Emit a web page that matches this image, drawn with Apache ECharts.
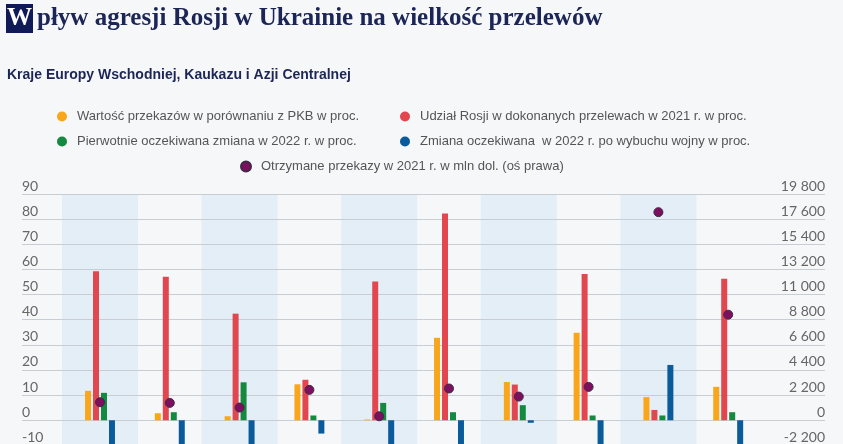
<!DOCTYPE html>
<html>
<head>
<meta charset="utf-8">
<title>Wpływ agresji Rosji w Ukrainie na wielkość przelewów</title>
<script src="https://cdn.jsdelivr.net/npm/echarts@6/dist/echarts.min.js"></script>
<style>
  html, body { margin: 0; padding: 0; overflow: hidden; background: #f6f7f9; }
  #chart { width: 843px; height: 460px; }
</style>
</head>
<body>
<div id="chart"></div>
<script>
// kraje (podpisy osi X są poza kadrem)
const countries = ['Armenia', 'Azerbejdżan', 'Białoruś', 'Gruzja', 'Kazachstan', 'Kirgistan', 'Mołdawia', 'Tadżykistan', 'Ukraina', 'Uzbekistan'];

// wartości w proc. (oś lewa)
const gdpShare = [11.7, 2.8, 1.6, 14.3, 0.3, 32.8, 15.2, 34.8, 9.2, 13.3];
const russiaShare = [59.3, 57.1, 42.4, 16.1, 55.2, 82.2, 14.2, 58.2, 4.1, 56.3];
const expectedBefore = [10.9, 3.2, 15.1, 1.9, 6.9, 3.2, 6.0, 1.9, 1.9, 3.2];
// słupki ujemne wychodzą poza kadr, więc ich długość jest szacunkowa
const expectedAfter = [-15, -12, -15, -5.3, -12, -33, -1.0, -22, 22.0, -21];

// mln dol. (oś prawa)
const remittances = [1580, 1520, 1110, 2660, 350, 2780, 2070, 2920, 18210, 9240];

// co drugi kraj na jasnoniebieskim tle
const bandMask = [1, 0, 1, 0, 1, 0, 1, 0, 1, 0];

const seriesNames = [
  'Wartość przekazów w porównaniu z PKB w proc.',
  'Udział Rosji w dokonanych przelewach w 2021 r. w proc.',
  'Pierwotnie oczekiwana zmiana w 2022 r. w proc.',
  'Zmiana oczekiwana  w 2022 r. po wybuchu wojny w proc.',
  'Otrzymane przekazy w 2021 r. w mln dol. (oś prawa)'
];
const colors = ['#f9a61a', '#e2474f', '#138a3f', '#0a5b9b', '#7c0f5e'];

const fmtSpace = v => String(v).replace(/\B(?=(\d{3})+(?!\d))/g, ' ');

const chart = echarts.init(document.getElementById('chart'));

const legendPos = [
  { left: 57, top: 110 },
  { left: 400, top: 110 },
  { left: 57, top: 135 },
  { left: 400, top: 135 },
  { left: 240, top: 160 }
];

const legends = seriesNames.map((name, i) => ({
  data: [name],
  left: legendPos[i].left,
  top: legendPos[i].top,
  padding: 0,
  icon: 'circle',
  itemWidth: 10,
  itemHeight: 10,
  selectedMode: false,
  textStyle: {
    color: '#555',
    fontSize: 13,
    fontFamily: 'Liberation Sans',
    padding: [0, 0, 0, 5]
  }
}));

const axisLabelBase = {
  inside: true,
  margin: 0,
  verticalAlign: 'bottom',
  padding: [0, 0, 1, 0],
  color: '#666',
  fontSize: 14,
  fontFamily: 'Lato'
};

const option = {
  backgroundColor: '#f6f7f9',
  animation: false,
  title: [
    {
      left: 6,
      top: 4,
      padding: 0,
      text: '{box|W}{t|pływ agresji Rosji w Ukrainie na wielkość przelewów}',
      textStyle: {
        rich: {
          box: {
            backgroundColor: '#101a56',
            color: '#fff',
            fontFamily: 'Liberation Serif',
            fontWeight: 'bold',
            fontSize: 25,
            width: 27,
            height: 29,
            lineHeight: 29,
            align: 'center'
          },
          t: {
            color: '#1b2556',
            fontFamily: 'Liberation Serif',
            fontSize: 25,
            lineHeight: 29,
            padding: [0, 0, 0, 4]
          }
        }
      }
    },
    {
      left: 7,
      top: 68,
      padding: 0,
      text: 'Kraje Europy Wschodniej, Kaukazu i Azji Centralnej',
      textStyle: {
        color: '#1b2556',
        fontFamily: 'Liberation Sans',
        fontWeight: 'bold',
        fontSize: 14
      }
    }
  ],
  legend: legends,
  grid: [
    // siatka i opisy osi
    { left: 22, right: 18, top: 194, bottom: 14.6 },
    // słupki i punkty
    { left: 65.1, right: 79.9, top: 194, bottom: 14.6 }
  ],
  xAxis: [
    { gridIndex: 0, type: 'value', min: 0, max: 1, show: false },
    { gridIndex: 1, type: 'category', data: countries, show: false },
    { gridIndex: 1, type: 'category', data: countries, show: false }
  ],
  yAxis: [
    {
      gridIndex: 0, type: 'value', position: 'left',
      min: -10, max: 90, interval: 10,
      axisLine: { show: false }, axisTick: { show: false },
      axisLabel: axisLabelBase,
      splitLine: { lineStyle: { color: '#c8ccd3', width: 1 } }
    },
    {
      gridIndex: 0, type: 'value', position: 'right',
      min: -2200, max: 19800, interval: 2200,
      axisLine: { show: false }, axisTick: { show: false },
      axisLabel: Object.assign({}, axisLabelBase, { formatter: fmtSpace }),
      splitLine: { show: false }
    },
    { gridIndex: 1, type: 'value', min: -10, max: 90, show: false },
    { gridIndex: 1, type: 'value', min: -2200, max: 19800, show: false },
    { gridIndex: 1, type: 'value', min: 0, max: 1, show: false }
  ],
  series: [
    {
      name: 'tło',
      type: 'bar',
      xAxisIndex: 2,
      yAxisIndex: 4,
      data: bandMask,
      barWidth: 76,
      clip: false,
      silent: true,
      z: -1,
      itemStyle: { color: '#e4eef7' }
    },
    {
      name: seriesNames[0], type: 'bar', xAxisIndex: 1, yAxisIndex: 2,
      data: gdpShare, barWidth: 6, barGap: '33%',
      itemStyle: { color: colors[0] }
    },
    {
      name: seriesNames[1], type: 'bar', xAxisIndex: 1, yAxisIndex: 2,
      data: russiaShare, barWidth: 6, barGap: '33%',
      itemStyle: { color: colors[1] }
    },
    {
      name: seriesNames[2], type: 'bar', xAxisIndex: 1, yAxisIndex: 2,
      data: expectedBefore, barWidth: 6, barGap: '33%',
      itemStyle: { color: colors[2] }
    },
    {
      name: seriesNames[3], type: 'bar', xAxisIndex: 1, yAxisIndex: 2,
      data: expectedAfter, barWidth: 6, barGap: '33%',
      itemStyle: { color: colors[3] }
    },
    {
      name: seriesNames[4], type: 'scatter', xAxisIndex: 1, yAxisIndex: 3,
      data: remittances, symbolSize: 9, z: 5,
      itemStyle: { color: colors[4], borderColor: '#3e2a48', borderWidth: 1, opacity: 1 }
    }
  ]
};

chart.setOption(option);
</script>
</body>
</html>
